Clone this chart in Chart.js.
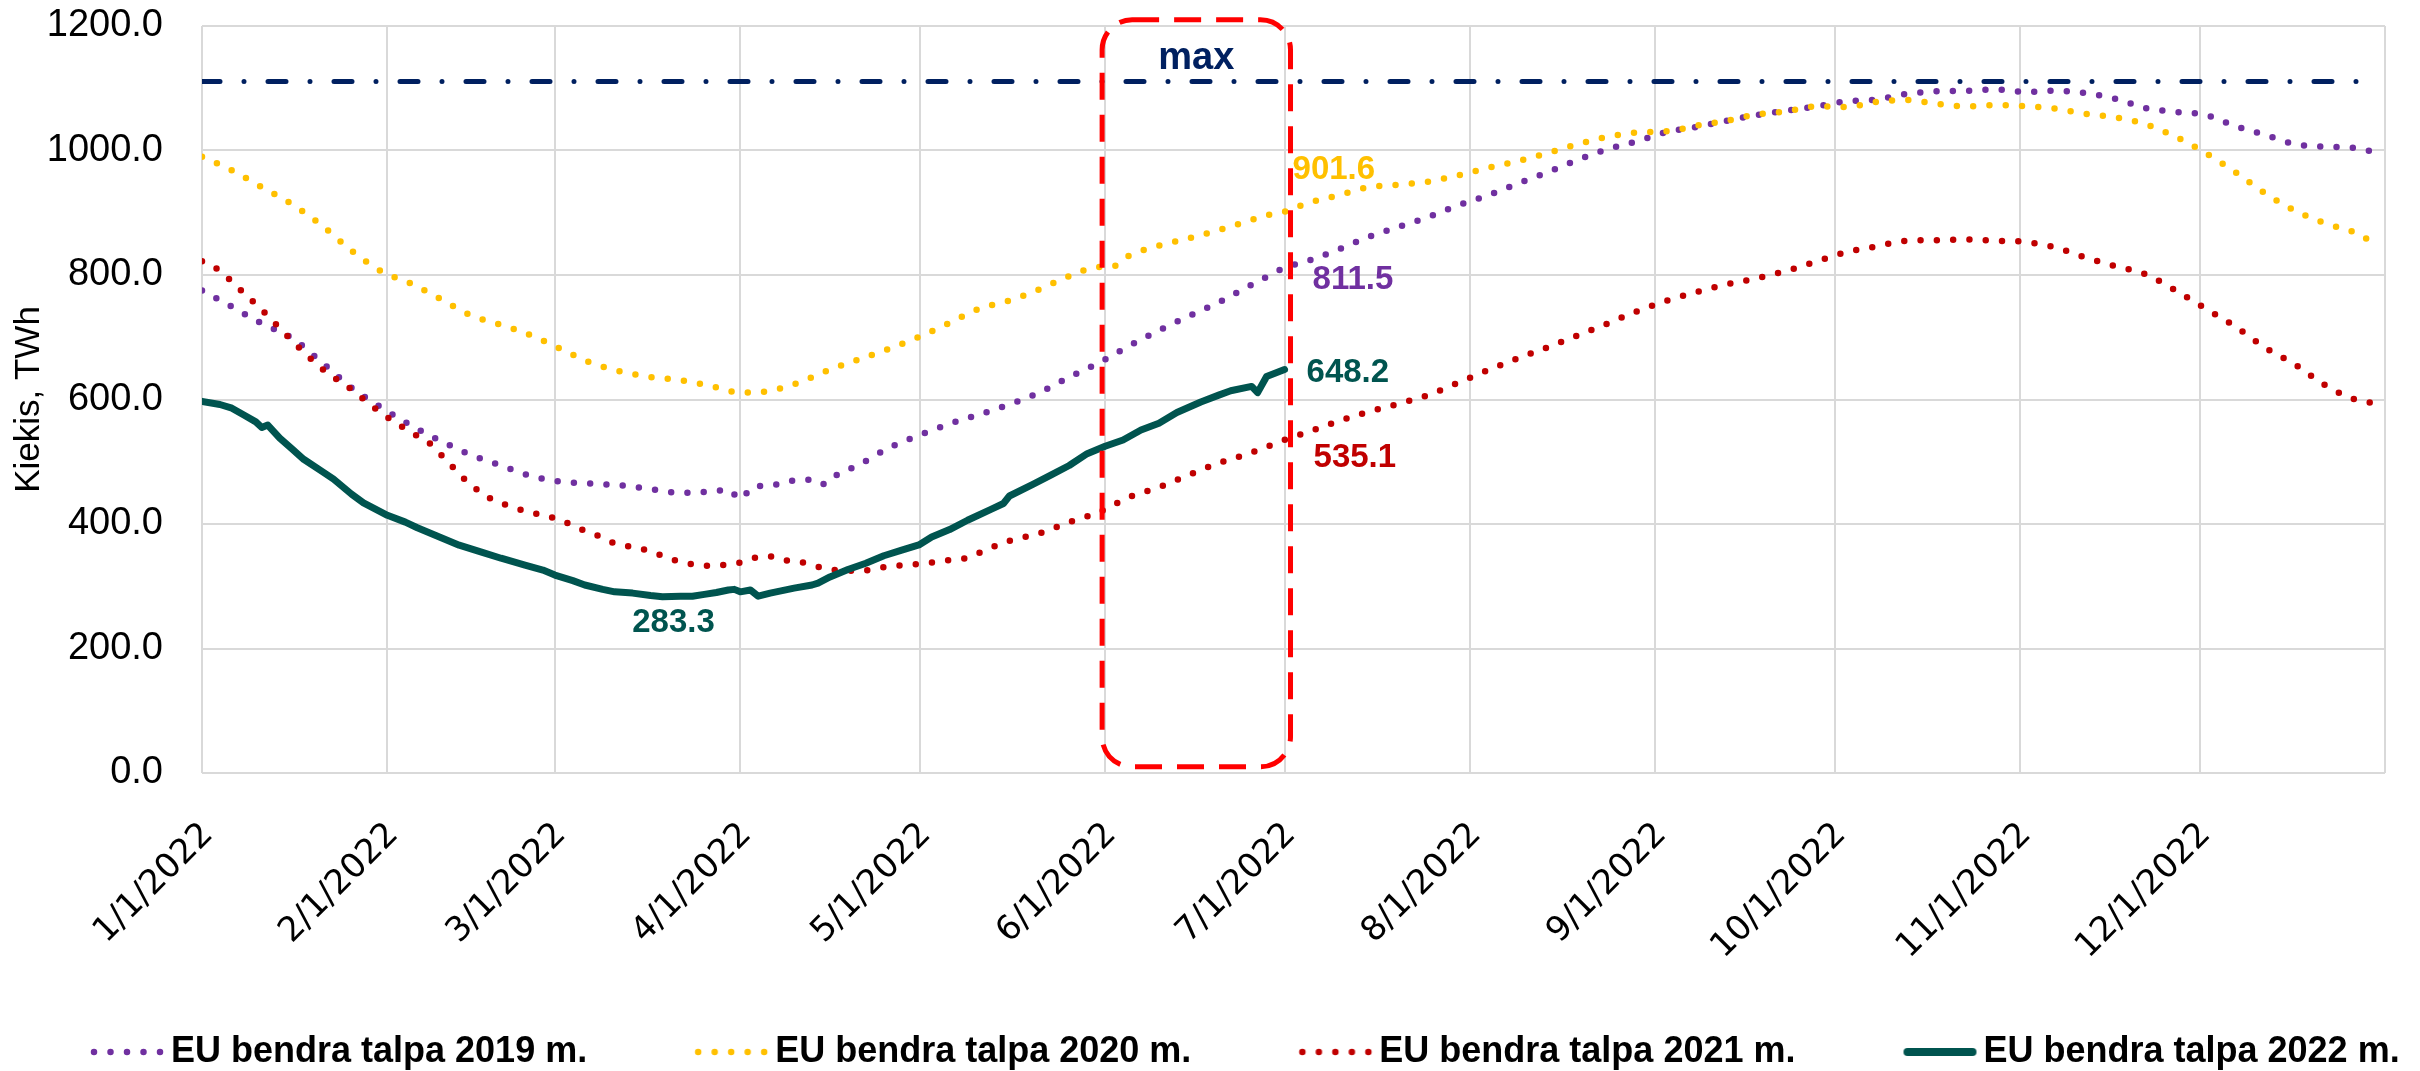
<!DOCTYPE html>
<html>
<head>
<meta charset="utf-8">
<title>EU bendra talpa</title>
<script src="https://cdn.jsdelivr.net/npm/chart.js@4.4.0/dist/chart.umd.min.js"></script>
<style>
  html, body { margin: 0; padding: 0; background: #ffffff; }
  #wrap { width: 2420px; height: 1071px; }
</style>
</head>
<body>
<div id="wrap"><canvas id="storageChart"></canvas></div>
<script>
// x axis: day of year 2022, ticks on the first day of each month
const monthStarts = [0, 31, 59, 90, 120, 151, 181, 212, 243, 273, 304, 334, 365];
const monthLabels = ["1/1/2022", "2/1/2022", "3/1/2022", "4/1/2022", "5/1/2022", "6/1/2022",
  "7/1/2022", "8/1/2022", "9/1/2022", "10/1/2022", "11/1/2022", "12/1/2022", ""];
const yTicks = [0, 200, 400, 600, 800, 1000, 1200];

const seriesNames = ["EU bendra talpa 2019 m.", "EU bendra talpa 2020 m.",
  "EU bendra talpa 2021 m.", "EU bendra talpa 2022 m."];

// 2019
const days2019 = [0, 5, 10, 15, 20, 25, 30, 35, 40, 45, 50, 55, 60, 65, 70, 75, 80, 85, 88, 90,
  92, 95, 100, 103, 104, 106, 110, 115, 120, 125, 130, 135, 140, 145, 150, 155, 160, 165, 170, 175,
  178, 181, 185, 190, 195, 200, 205, 210, 215, 220, 225, 230, 235, 240, 245, 250, 255, 260, 265, 270,
  275, 280, 285, 290, 295, 300, 305, 310, 315, 320, 325, 330, 335, 340, 345, 350, 355, 360, 364];
const values2019 = [775, 749, 722, 699, 660, 619, 587, 558, 533, 511, 494, 477, 468, 465, 462, 456, 450, 452, 455, 440,
  459, 462, 471, 470, 464, 478, 496, 523, 543, 561, 576, 592, 611, 636, 659, 686, 711, 734, 756, 782,
  797, 811.5, 823, 841, 861, 877, 893, 912, 928, 947, 965, 985, 1002, 1015, 1030, 1038, 1048, 1057, 1064, 1071,
  1079, 1082, 1091, 1095, 1096, 1098, 1094, 1096, 1092, 1083, 1068, 1062, 1057, 1039, 1025, 1010, 1006, 1004, 996];

// 2020
const days2020 = [0, 5, 10, 15, 20, 25, 30, 35, 40, 45, 50, 55, 60, 65, 70, 75, 80, 85,
  90, 95, 100, 105, 110, 115, 120, 125, 130, 135, 140, 145, 150, 152, 155, 160, 165, 170, 175, 178,
  181, 185, 190, 195, 200, 205, 210, 215, 220, 225, 230, 235, 240, 245, 250, 255, 260, 265, 270, 275,
  280, 285, 290, 295, 300, 305, 310, 315, 320, 325, 330, 335, 340, 345, 350, 355, 360, 364];
const values2020 = [990, 968, 941, 914, 880, 839, 806, 786, 761, 735, 720, 703, 681, 659, 645, 636, 631, 622,
  611, 614, 628, 648, 665, 682, 701, 723, 746, 759, 777, 798, 813, 813, 831, 847, 859, 872, 887, 896,
  901.6, 916, 928, 941, 945, 950, 960, 972, 983, 996, 1010, 1022, 1029, 1031, 1040, 1048, 1058, 1063, 1071, 1070,
  1078, 1081, 1075, 1071, 1073, 1071, 1067, 1059, 1053, 1042, 1022, 996, 965, 931, 903, 883, 868, 846];

// 2021
const days2021 = [0, 3, 5, 7, 10, 15, 20, 25, 30, 35, 38, 40, 42, 44, 46, 48, 51, 54, 57, 60,
  63, 66, 69, 72, 75, 78, 81, 85, 88, 90, 93, 95, 98, 100, 105, 110, 115, 120, 125, 128,
  130, 135, 140, 145, 150, 155, 160, 165, 170, 175, 181, 185, 190, 195, 200, 205, 210, 215, 220, 225,
  230, 235, 240, 245, 250, 255, 260, 265, 270, 275, 280, 285, 290, 295, 300, 305, 310, 315, 320, 325,
  330, 335, 340, 345, 350, 355, 360, 364];
const values2021 = [822, 807, 789, 771, 744, 695, 650, 616, 578, 547, 530, 511, 491, 471, 455, 442, 430, 421, 414, 406,
  393, 382, 369, 363, 356, 345, 337, 333, 335, 338, 347, 348, 341, 339, 327, 325, 332, 336, 342, 346,
  354, 373, 385, 403, 419, 443, 459, 479, 498, 513, 535.1, 548, 565, 580, 593, 607, 627, 647, 666, 684,
  703, 722, 742, 759, 773, 785, 795, 807, 822, 837, 846, 855, 856, 857, 855, 853, 844, 828, 814, 801,
  775, 746, 717, 683, 656, 623, 600, 593];

// 2022 (up to 7/1)
const days2022 = [0, 3, 5, 7, 9, 10, 11, 13, 15, 17, 20, 22, 25, 27, 29, 31, 34, 36, 40, 43,
  47, 50, 54, 57, 59, 62, 64, 67, 69, 72, 75, 77, 80, 82, 84, 86, 88, 89, 90, 91.7,
  93, 95, 99, 102, 103, 105, 108, 111, 114, 117, 120, 122, 125, 128, 132, 134, 135, 139, 142, 145,
  148, 151, 154, 157, 160, 163, 167, 170, 172, 175.5, 176.5, 178, 181];
const values2022 = [597, 592, 586, 575, 564, 555, 559, 538, 521, 504, 485, 472, 448, 434, 424, 414, 403, 394, 378, 366,
  354, 345, 334, 326, 318, 309, 302, 295, 291, 289, 285, 283.3, 284, 284, 287, 290, 294, 295, 291, 294,
  284, 289, 297, 302, 305, 315, 327, 337, 349, 358, 367, 379, 391, 406, 424, 433, 445, 464, 479, 494,
  513, 525, 535, 551, 562, 579, 596, 607, 614, 621, 611, 637, 648.2];

// maximum capacity line
const maxDays = [0, 364];
const maxValues = [1111, 1111];

const seriesColors = ["#7030A0", "#FFC000", "#C00000", "#00544F"];
const maxColor = "#002060";
const FONT = "'Liberation Sans', Arial, sans-serif";

function toPoints(days, values) {
  return days.map((d, i) => ({ x: d, y: values[i] }));
}

// small picture used as the legend marker (dots drawn in its right part)
function legendMarker(color, dotted) {
  const c = document.createElement("canvas");
  c.width = 186;
  c.height = 14;
  const g = c.getContext("2d");
  g.strokeStyle = color;
  g.lineCap = "round";
  g.beginPath();
  if (dotted) {
    g.lineWidth = 6.5;
    g.setLineDash([0, 16.5]);
    g.moveTo(115, 7);
    g.lineTo(183, 7);
  } else {
    g.lineWidth = 8;
    g.moveTo(116, 7);
    g.lineTo(181, 7);
  }
  g.stroke();
  return c;
}

function dottedSeries(idx, days, values, order) {
  return {
    label: seriesNames[idx],
    data: toPoints(days, values),
    borderColor: seriesColors[idx],
    backgroundColor: seriesColors[idx],
    borderWidth: 6.5,
    borderDash: [0, 16.3],
    borderCapStyle: "round",
    borderJoinStyle: "round",
    cubicInterpolationMode: "monotone",
    pointRadius: 0,
    pointStyle: legendMarker(seriesColors[idx], true),
    order: order,
  };
}

// red box around June, "max" text and the value labels
const overlayPlugin = {
  id: "overlay",
  afterDatasetsDraw(chart) {
    const { ctx, scales: { x, y } } = chart;
    ctx.save();

    const left = x.getPixelForValue(150.5);
    const right = x.getPixelForValue(182);
    const top = y.getPixelForValue(1210);
    const bottom = y.getPixelForValue(10);
    ctx.strokeStyle = "#FF0000";
    ctx.lineWidth = 5;
    ctx.setLineDash([27, 15]);
    ctx.beginPath();
    ctx.roundRect(left, top, right - left, bottom - top, 30);
    ctx.stroke();
    ctx.setLineDash([]);

    ctx.textBaseline = "middle";
    ctx.font = "bold 38px " + FONT;
    ctx.fillStyle = maxColor;
    ctx.textAlign = "center";
    ctx.fillText("max", (left + right) / 2, y.getPixelForValue(1147));

    // end-of-June values
    const ends = [
      { days: days2020, values: values2020, color: seriesColors[1], dx: 8, dy: -42 },
      { days: days2019, values: values2019, color: seriesColors[0], dx: 28, dy: 12 },
      { days: days2022, values: values2022, color: seriesColors[3], dx: 22, dy: 3 },
      { days: days2021, values: values2021, color: seriesColors[2], dx: 29, dy: 18 },
    ];
    ctx.font = "bold 33px " + FONT;
    ctx.textAlign = "left";
    ends.forEach((s) => {
      const i = s.days.indexOf(181);
      const v = s.values[i];
      ctx.fillStyle = s.color;
      ctx.fillText(v.toFixed(1), x.getPixelForValue(181) + s.dx, y.getPixelForValue(v) + s.dy);
    });

    // 2022 minimum
    const minVal = Math.min(...values2022);
    const minDay = days2022[values2022.indexOf(minVal)];
    ctx.textAlign = "center";
    ctx.fillStyle = seriesColors[3];
    ctx.fillText(minVal.toFixed(1), x.getPixelForValue(minDay) + 11, y.getPixelForValue(minVal) + 26);

    ctx.restore();
  },
};

const ctx = document.getElementById("storageChart");
new Chart(ctx, {
  type: "line",
  data: {
    datasets: [
      dottedSeries(0, days2019, values2019, 3),
      dottedSeries(1, days2020, values2020, 2),
      dottedSeries(2, days2021, values2021, 1),
      {
        label: seriesNames[3],
        data: toPoints(days2022, values2022),
        borderColor: seriesColors[3],
        backgroundColor: seriesColors[3],
        borderWidth: 7,
        borderCapStyle: "round",
        borderJoinStyle: "round",
        tension: 0,
        pointRadius: 0,
        pointStyle: legendMarker(seriesColors[3], false),
        order: 0,
      },
      {
        label: "max",
        data: toPoints(maxDays, maxValues),
        borderColor: maxColor,
        borderWidth: 5,
        borderDash: [18, 24, 0, 24],
        borderCapStyle: "round",
        pointRadius: 0,
        order: 4,
      },
    ],
  },
  options: {
    responsive: true,
    maintainAspectRatio: false,
    animation: false,
    events: [],
    layout: {
      autoPadding: false,
      padding: { top: 26, right: 0, bottom: -9, left: -17 },
    },
    plugins: {
      tooltip: { enabled: false },
      legend: {
        position: "bottom",
        align: "start",
        labels: {
          usePointStyle: true,
          pointStyleWidth: 162,
          padding: 8,
          color: "#000000",
          font: { family: FONT, size: 36, weight: "bold" },
          filter: (item) => item.datasetIndex < 4,
          sort: (a, b) => a.datasetIndex - b.datasetIndex,
        },
      },
    },
    scales: {
      x: {
        type: "linear",
        min: 0,
        max: 365,
        afterBuildTicks: (scale) => {
          scale.ticks = monthStarts.map((v) => ({ value: v }));
        },
        afterFit: (scale) => {
          scale.height = 253;
        },
        ticks: {
          autoSkip: false,
          minRotation: 45,
          maxRotation: 45,
          padding: 0,
          labelOffset: 6,
          color: "#000000",
          font: { family: "'DejaVu Sans', sans-serif", size: 34 },
          callback: (value) => monthLabels[monthStarts.indexOf(value)],
        },
        // invisible tick marks give the gap between the axis and the labels
        grid: { color: "#D9D9D9", lineWidth: 2, drawTicks: true, tickLength: 42, tickColor: "rgba(0,0,0,0)" },
        border: { display: false },
      },
      y: {
        min: 0,
        max: 1200,
        afterBuildTicks: (scale) => {
          scale.ticks = yTicks.map((v) => ({ value: v }));
        },
        afterFit: (scale) => {
          scale.width = 219;
        },
        ticks: {
          padding: 0,
          color: "#000000",
          font: { family: FONT, size: 38 },
          callback: (value) => value.toFixed(1),
        },
        title: {
          display: true,
          text: "Kiekis, TWh",
          color: "#000000",
          font: { family: FONT, size: 35 },
          padding: { top: 25, bottom: 0 },
        },
        grid: { color: "#D9D9D9", lineWidth: 2, drawTicks: true, tickLength: 39, tickColor: "rgba(0,0,0,0)" },
        border: { display: false },
      },
      // empty right-hand axis that only keeps the plot clear of the right edge
      yRight: {
        position: "right",
        min: 0,
        max: 1200,
        afterFit: (scale) => {
          scale.width = 35;
        },
        ticks: { display: false },
        grid: { display: false },
        border: { display: false },
      },
    },
  },
  plugins: [overlayPlugin],
});
</script>
</body>
</html>
